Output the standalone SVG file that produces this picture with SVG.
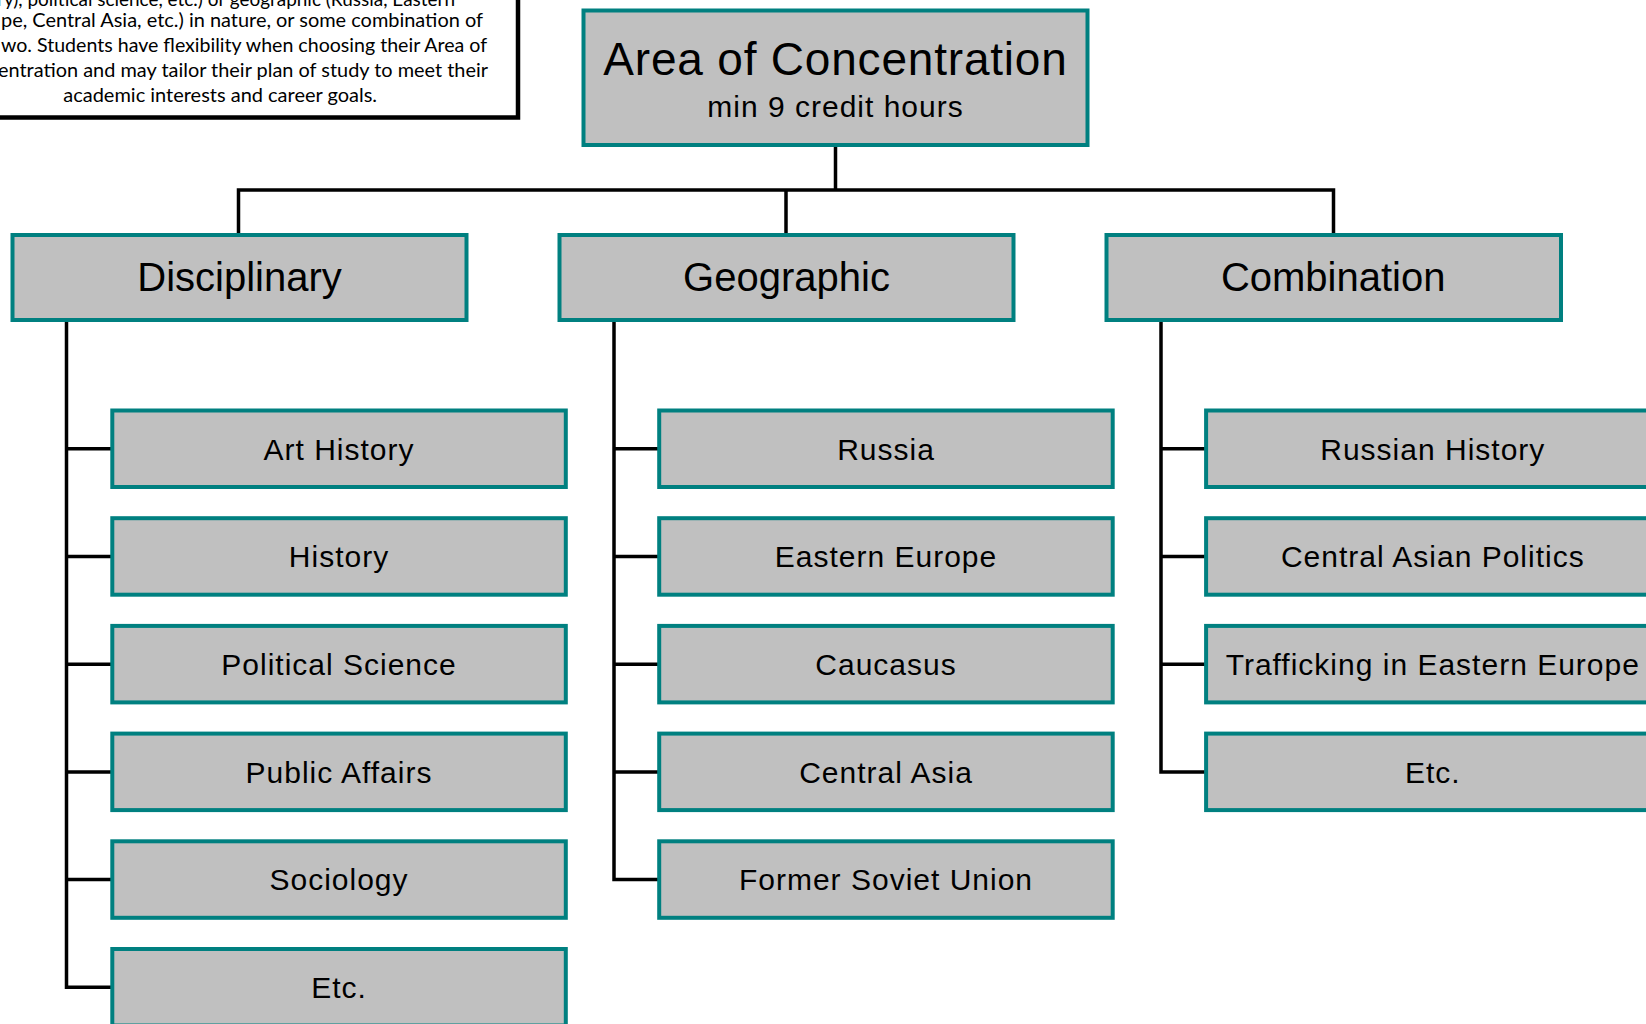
<svg xmlns="http://www.w3.org/2000/svg" width="1646" height="1024" viewBox="0 0 1646 1024">
<style>
.box{fill:#c0c0c0;stroke:#008080;stroke-width:4}
.conn{stroke:#000;stroke-width:3.5;fill:none;stroke-linecap:square}
.t{font-family:"Liberation Sans",Arial,sans-serif;fill:#000;text-anchor:middle}
.title{font-size:46px;letter-spacing:0.8px}
.sub{font-size:30px;letter-spacing:1px}
.l2{font-size:40px}
.l3{font-size:30px;letter-spacing:1px}
.note{font-family:Lato,"Open Sans",sans-serif;font-size:20px;fill:#000}
</style>
<rect width="1646" height="1024" fill="#fff"/>
<g id="note">
<rect x="-20" y="-20" width="538" height="137.5" fill="#fff" stroke="#000" stroke-width="4.5"/>
<text class="note" x="-3" y="5.5" textLength="458" lengthAdjust="spacingAndGlyphs">ry), political science, etc.) or geographic (Russia, Eastern</text>
<text class="note" x="1" y="27.3" textLength="482" lengthAdjust="spacingAndGlyphs">pe, Central Asia, etc.) in nature, or some combination of</text>
<text class="note" x="1" y="52.1" textLength="486" lengthAdjust="spacingAndGlyphs">wo. Students have flexibility when choosing their Area of</text>
<text class="note" x="-2" y="76.9" textLength="490" lengthAdjust="spacingAndGlyphs">entration and may tailor their plan of study to meet their</text>
<text class="note" x="63.3" y="101.7" textLength="313.7" lengthAdjust="spacingAndGlyphs">academic interests and career goals.</text>
</g>
<g id="connectors">
<path class="conn" d="M835.5 145V190M238.5 235V190H1333.5V235M786 190V235"/>
<path class="conn" d="M66.5 320V987.2M66.5 448.8H112M66.5 556.5H112M66.5 664.2H112M66.5 771.9H112M66.5 879.6H112M66.5 987.2H112"/>
<path class="conn" d="M614 320V879.6M614 448.8H659M614 556.5H659M614 664.2H659M614 771.9H659M614 879.6H659"/>
<path class="conn" d="M1161 320V771.9M1161 448.8H1206M1161 556.5H1206M1161 664.2H1206M1161 771.9H1206"/>
</g>
<g id="root">
<rect class="box" x="583.5" y="10.5" width="504" height="134.5"/>
<text class="t title" x="835.5" y="74.5">Area of Concentration</text>
<text class="t sub" x="835.5" y="116.5">min 9 credit hours</text>
</g>
<g id="disciplinary">
<rect class="box" x="12.5" y="235" width="454" height="85"/>
<text class="t l2" x="239.5" y="291">Disciplinary</text>
</g>
<g id="geographic">
<rect class="box" x="559.5" y="235" width="454" height="85"/>
<text class="t l2" x="786.5" y="291">Geographic</text>
</g>
<g id="combination">
<rect class="box" x="1106.5" y="235" width="454.5" height="85"/>
<text class="t l2" x="1333.2" y="291">Combination</text>
</g>
<g id="art-history"><rect class="box" x="112.3" y="410.5" width="453.5" height="76.5"/><text class="t l3" x="339" y="459.5">Art History</text></g>
<g id="history"><rect class="box" x="112.3" y="518.2" width="453.5" height="76.5"/><text class="t l3" x="339" y="567.2">History</text></g>
<g id="political-science"><rect class="box" x="112.3" y="625.9" width="453.5" height="76.5"/><text class="t l3" x="339" y="674.9">Political Science</text></g>
<g id="public-affairs"><rect class="box" x="112.3" y="733.6" width="453.5" height="76.5"/><text class="t l3" x="339" y="782.6">Public Affairs</text></g>
<g id="sociology"><rect class="box" x="112.3" y="841.3" width="453.5" height="76.5"/><text class="t l3" x="339" y="890.3">Sociology</text></g>
<g id="etc-disciplinary"><rect class="box" x="112.3" y="949" width="453.5" height="76.5"/><text class="t l3" x="339" y="998">Etc.</text></g>
<g id="russia"><rect class="box" x="659.2" y="410.5" width="453.5" height="76.5"/><text class="t l3" x="886" y="459.5">Russia</text></g>
<g id="eastern-europe"><rect class="box" x="659.2" y="518.2" width="453.5" height="76.5"/><text class="t l3" x="886" y="567.2">Eastern Europe</text></g>
<g id="caucasus"><rect class="box" x="659.2" y="625.9" width="453.5" height="76.5"/><text class="t l3" x="886" y="674.9">Caucasus</text></g>
<g id="central-asia"><rect class="box" x="659.2" y="733.6" width="453.5" height="76.5"/><text class="t l3" x="886" y="782.6">Central Asia</text></g>
<g id="former-soviet-union"><rect class="box" x="659.2" y="841.3" width="453.5" height="76.5"/><text class="t l3" x="886" y="890.3">Former Soviet Union</text></g>
<g id="russian-history"><rect class="box" x="1206.1" y="410.5" width="453.5" height="76.5"/><text class="t l3" x="1432.8" y="459.5">Russian History</text></g>
<g id="central-asian-politics"><rect class="box" x="1206.1" y="518.2" width="453.5" height="76.5"/><text class="t l3" x="1432.8" y="567.2">Central Asian Politics</text></g>
<g id="trafficking"><rect class="box" x="1206.1" y="625.9" width="453.5" height="76.5"/><text class="t l3" x="1432.8" y="674.9">Trafficking in Eastern Europe</text></g>
<g id="etc-combination"><rect class="box" x="1206.1" y="733.6" width="453.5" height="76.5"/><text class="t l3" x="1432.8" y="782.6">Etc.</text></g>
</svg>
